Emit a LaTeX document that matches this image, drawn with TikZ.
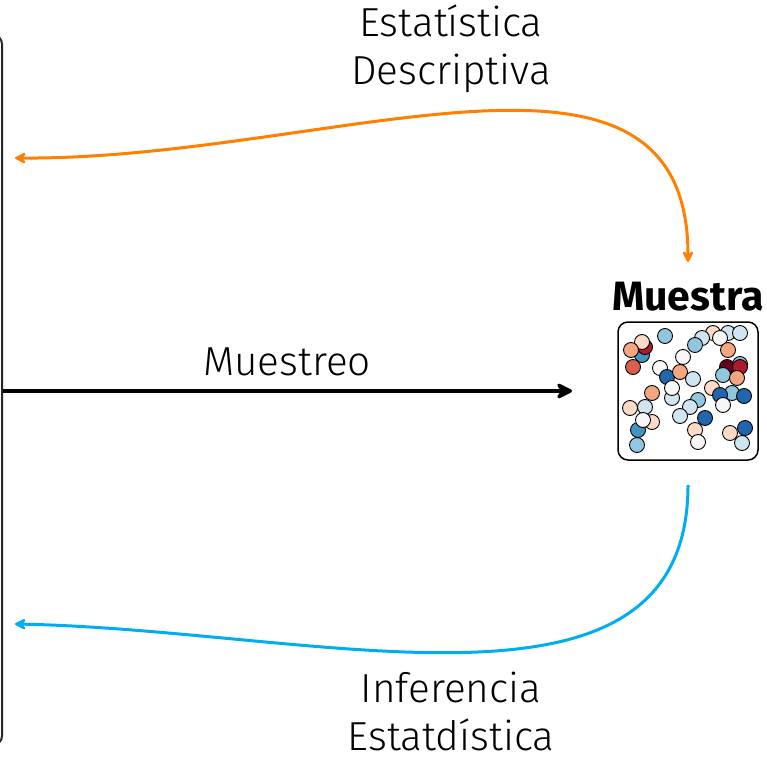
\documentclass[tikz,border=0pt]{standalone}
\usepackage{fontspec}
\setmainfont{Fira Sans Light}[BoldFont={Fira Sans Bold}]
\usetikzlibrary{arrows.meta}

\definecolor{naranja}{HTML}{FF7F00}
\definecolor{celeste}{HTML}{00AEEF}
\definecolor{rdA}{HTML}{67001F}
\definecolor{rdB}{HTML}{B2182B}
\definecolor{rdC}{HTML}{D6604D}
\definecolor{rdD}{HTML}{F4A582}
\definecolor{rdE}{HTML}{FDDBC7}
\definecolor{ntr}{HTML}{F7F7F7}
\definecolor{buE}{HTML}{D1E5F0}
\definecolor{buD}{HTML}{92C5DE}
\definecolor{buC}{HTML}{4393C3}
\definecolor{buB}{HTML}{2166AC}

\tikzset{
  etiqueta/.style={font=\fontsize{40.5}{48}\selectfont, align=center, inner sep=0pt},
  flecha/.style={line width=3pt, -{Stealth[round, length=14pt, width=14pt, inset=5pt]}},
  punto/.style={draw=black, line width=0.9pt},
}

\begin{document}
\begin{tikzpicture}[x=1pt,y=-1pt]
 \useasboundingbox (0,0) rectangle (767,759);
 % poblacion (solo se ve su borde derecho)
 \node[draw=black!85, line width=2pt, rounded corners=9pt, minimum width=120pt,
   minimum height=710pt, inner sep=0pt] (pob) at (-58,390) {};
 % muestra
 \node[draw=black, line width=1.5pt, rounded corners=10pt, minimum width=140pt,
   minimum height=138pt, inner sep=0pt] (caja) at (688,391) {};
 \node[font=\fontsize{41}{48}\selectfont\bfseries] (muestra) at (688,297) {Muestra};
 \foreach \x/\y/\c in {642/355/buC, 645/347/rdB, 642/342/rdE, 631/350/rdD,
   633/367/rdC, 665/336/buD, 713/333/rdE, 728/333/buE, 740/333/buE, 702/338/buE,
   720/338/ntr, 695/345/buD, 728/350/rdD, 683/357/ntr, 660/368/ntr, 667/377/buB,
   680/372/rdD, 693/379/buE, 672/398/buE, 672/388/ntr, 740/364/buD, 727/367/rdA,
   740/367/rdB, 723/375/buD, 737/378/rdD, 712/388/rdE, 732/393/buD, 720/395/buB,
   744/396/buB, 723/405/ntr, 652/393/rdD, 698/400/buD, 690/407/buE, 645/407/buE,
   630/408/rdE, 680/416/buE, 705/418/buB, 652/422/rdE, 638/430/buC, 643/420/ntr,
   695/430/rdE, 698/442/ntr, 730/433/rdE, 745/428/buB, 742/443/buE, 637/445/buD}
   \draw[punto, fill=\c] (\x,\y) circle (7.5);
 % puntos de las flechas
 \coordinate (ini) at (pob.east |- 0,391);
 \coordinate (fin) at (572,391);
 \coordinate (desc) at (688,262);
 \coordinate (descpob) at (15,158);
 \coordinate (inf) at (688,485);
 \coordinate (infpob) at (15,624);
 % muestreo
 \draw[flecha, line width=4.5pt, -{Stealth[round, length=20pt, width=20pt, inset=7pt]}] (ini) -- (fin);
 \node[etiqueta] (lmuestreo) at (287,362) {Muestreo};
 % estadistica descriptiva
 \draw[flecha, naranja, {Stealth[round, length=14pt, width=14pt, inset=5pt]}-{Stealth[round, length=14pt, width=14pt, inset=5pt]}]
   (descpob) .. controls (330,160) and (688,0) .. (desc);
 \node[etiqueta] (ldesc) at (451,49) {Estatística\\Descriptiva};
 % inferencia
 \draw[flecha, celeste] (inf) .. controls (688,740) and (320,630) .. (infpob);
 \node[etiqueta] (linf) at (451,711) {Inferencia\\Estatdística};
\end{tikzpicture}
\end{document}
